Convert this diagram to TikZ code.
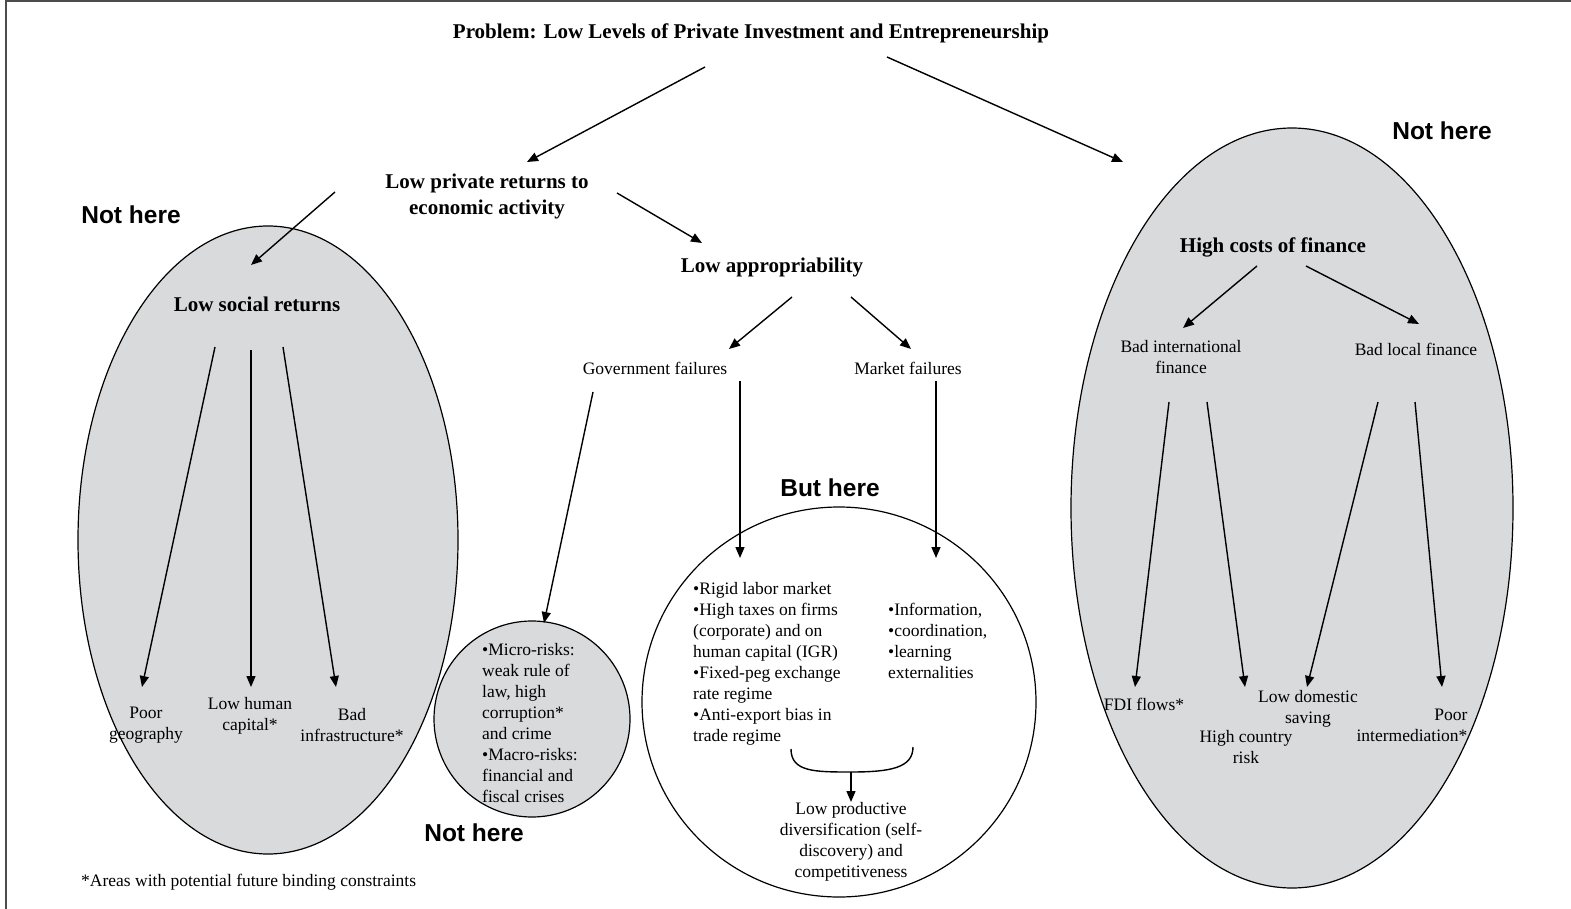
\documentclass[tikz,border=0pt]{standalone}
\usepackage{fontspec}
\setmainfont{Liberation Serif}
\newfontfamily\headsans{Liberation Sans}
\usetikzlibrary{arrows.meta}
\definecolor{shade}{HTML}{D9DADC}
\tikzset{
  txt/.style={inner sep=0pt, font=\fontsize{17.5}{21}\selectfont, align=center},
  ltxt/.style={inner sep=0pt, font=\fontsize{17.5}{21}\selectfont, align=left, anchor=north west},
  btxt/.style={inner sep=0pt, font=\fontsize{21}{26}\selectfont\bfseries, align=center},
  verdict/.style={inner sep=0pt, font=\headsans\fontsize{24.5}{28}\selectfont\bfseries},
  arr/.style={line width=1.4pt, -{Triangle[length=11pt,width=9pt]}},
  blob/.style={draw, line width=1.2pt, fill=shade},
  ring/.style={draw, line width=1.2pt, fill=white},
  frameline/.style={line width=2pt, black!70}
}
\begin{document}
\begin{tikzpicture}[x=1pt,y=-1pt]
\useasboundingbox (0,0) rectangle (1571,909);
% frame
\coordinate (fa) at (6,1);
\coordinate (fb) at (1571,1);
\coordinate (fc) at (6,909);
\draw[frameline] (fb) -- (fa) -- (fc);

% shapes
\path[blob] (268,540) ellipse [x radius=190, y radius=314];
\path[blob] (1292,508) ellipse [x radius=221, y radius=380];
\path[blob] (532,719) circle [radius=98];
\path[ring] (839,702) ellipse [x radius=197, y radius=195];

% headings
\node[btxt] (title) at (751,33) {Problem: Low Levels of Private Investment and Entrepreneurship};
\node[btxt] (lpr) at (487,196) {Low private returns to\\economic activity};
\node[btxt] (lapp) at (772,267) {Low appropriability};
\node[btxt] (lsr) at (257,304) {Low social returns};
\node[btxt] (hcf) at (1273,247) {High costs of finance};

% verdicts
\node[verdict] (nh1) at (131,215) {Not here};
\node[verdict] (nh2) at (474,833) {Not here};
\node[verdict] (nh3) at (1442,131) {Not here};
\node[verdict] (bh) at (830,488) {But here};

% middle labels
\node[txt] (gov) at (655,368) {Government failures};
\node[txt] (mkt) at (908,368) {Market failures};
\node[txt] (bif) at (1181,357) {Bad international\\finance};
\node[txt] (blf) at (1416,349) {Bad local finance};

% leaves
\node[txt] (pg) at (146,725) {Poor\\geography};
\node[txt] (lhc) at (250,716) {Low human\\capital*};
\node[txt] (binf) at (352,725) {Bad\\infrastructure*};
\node[txt] (fdi) at (1144,704) {FDI flows*};
\node[txt] (hcr) at (1246,747) {High country\\risk};
\node[txt] (lds) at (1308,709) {Low domestic\\saving};
\node[txt, align=right] (pint) at (1412,725) {Poor\\intermediation*};

\node[ltxt] (micro) at (482,643) {{\textbullet}Micro-risks:\\weak rule of\\law, high\\corruption*\\and crime\\{\textbullet}Macro-risks:\\financial and\\fiscal crises};
\node[ltxt] (govlist) at (693,582) {{\textbullet}Rigid labor market\\{\textbullet}High taxes on firms\\(corporate) and on\\human capital (IGR)\\{\textbullet}Fixed-peg exchange\\rate regime\\{\textbullet}Anti-export bias in\\trade regime};
\node[ltxt] (mktlist) at (888,603) {{\textbullet}Information,\\{\textbullet}coordination,\\{\textbullet}learning\\externalities};
\node[txt] (lpd) at (851,842) {Low productive\\diversification (self-\\discovery) and\\competitiveness};

\node[inner sep=0pt, anchor=west, font=\fontsize{17.5}{21}\selectfont] (foot) at (81,882) {*Areas with potential future binding constraints};

% connector end points
\coordinate (a1s) at (705,67);   \coordinate (a1e) at (527,162);
\coordinate (a2s) at (887,57);   \coordinate (a2e) at (1123,162);
\coordinate (a3s) at (335,192);  \coordinate (a3e) at (251,265);
\coordinate (a4s) at (617,193);  \coordinate (a4e) at (702,243);
\coordinate (a5s) at (792,297);  \coordinate (a5e) at (729,349);
\coordinate (a6s) at (851,297);  \coordinate (a6e) at (911,349);
\coordinate (a7s) at (593,392);  \coordinate (a7e) at (544,623);
\coordinate (a8s) at (740,381);  \coordinate (a8e) at (740,558);
\coordinate (a9s) at (936,381);  \coordinate (a9e) at (936,558);
\coordinate (l1s) at (215,347);  \coordinate (l1e) at (142,687);
\coordinate (l2s) at (251,350);  \coordinate (l2e) at (251,687);
\coordinate (l3s) at (283,347);  \coordinate (l3e) at (336,687);
\coordinate (f1s) at (1257,266); \coordinate (f1e) at (1183,328);
\coordinate (f2s) at (1306,266); \coordinate (f2e) at (1419,324);
\coordinate (r1s) at (1169,402); \coordinate (r1e) at (1135,687);
\coordinate (r2s) at (1207,402); \coordinate (r2e) at (1245,687);
\coordinate (r3s) at (1378,402); \coordinate (r3e) at (1307,687);
\coordinate (r4s) at (1415,402); \coordinate (r4e) at (1442,687);
\coordinate (brl) at (791,749);
\coordinate (brm) at (851,772);
\coordinate (brr) at (913,747);
\coordinate (bre) at (851,802);

% connectors
\foreach \s/\e in {a1s/a1e,a2s/a2e,a3s/a3e,a4s/a4e,a5s/a5e,a6s/a6e,a7s/a7e,a8s/a8e,a9s/a9e,
  l1s/l1e,l2s/l2e,l3s/l3e,f1s/f1e,f2s/f2e,r1s/r1e,r2s/r2e,r3s/r3e,r4s/r4e,brm/bre}
  \draw[arr] (\s) -- (\e);
\draw[line width=1.4pt] (brl) .. controls (791,772) and (815,772) .. (brm)
  .. controls (890,772) and (913,768) .. (brr);
\end{tikzpicture}
\end{document}
